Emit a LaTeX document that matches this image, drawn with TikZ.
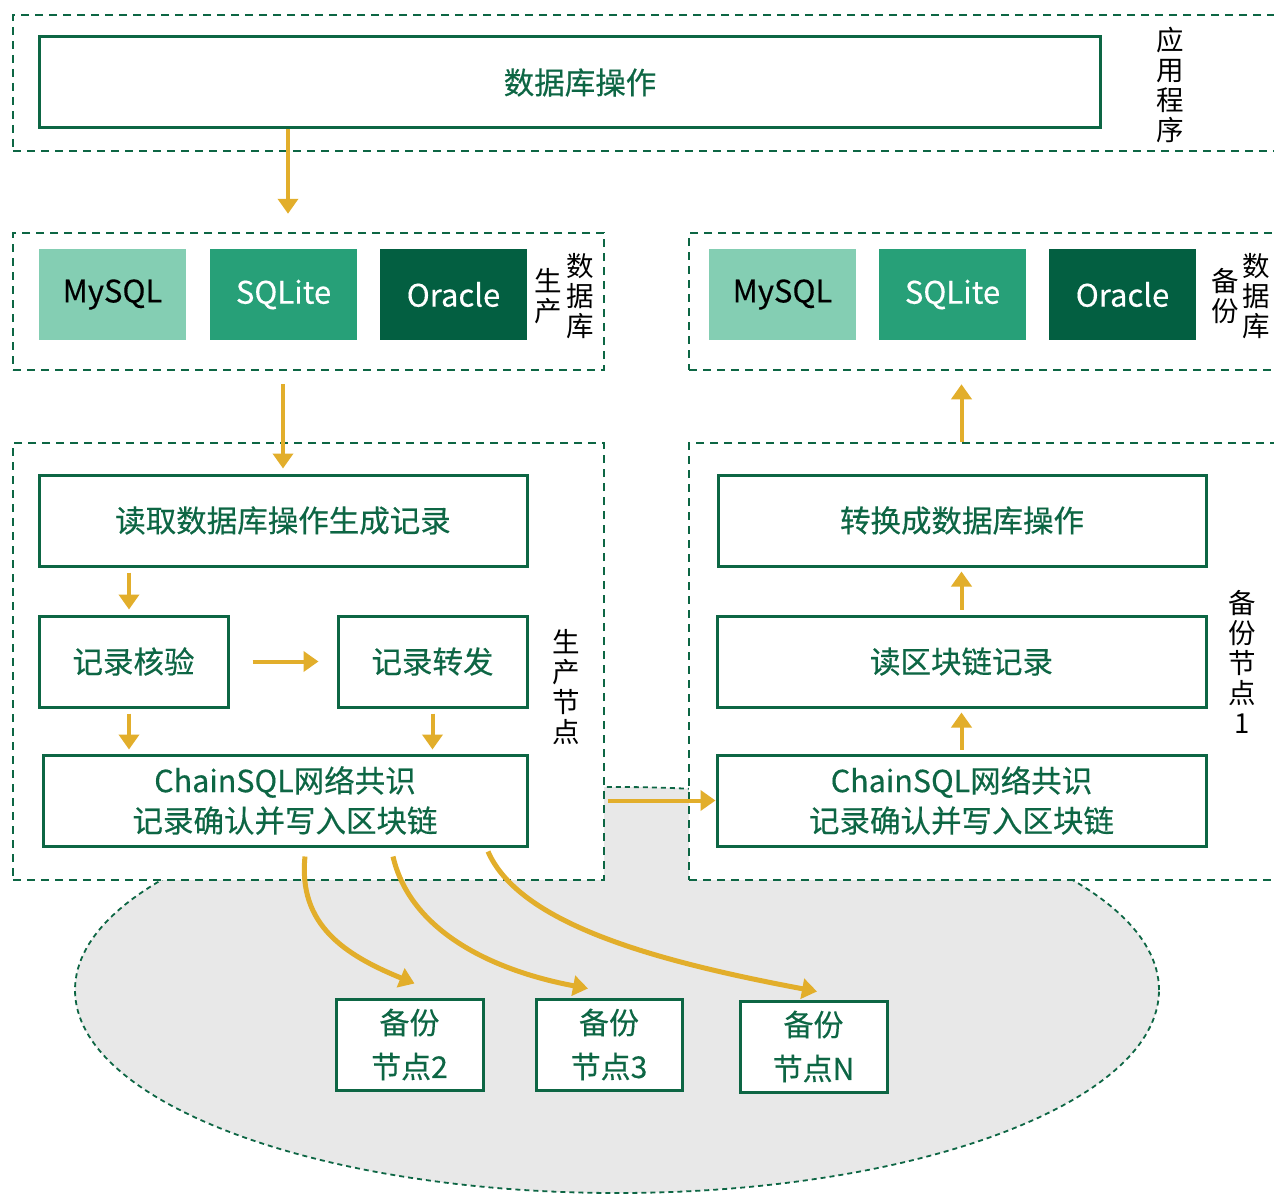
\documentclass[tikz,border=0pt]{standalone}
\usepackage{fontspec}
\setmainfont{Noto Sans CJK SC}
\newfontfamily\medfont{Noto Sans CJK SC}[FakeBold=0.35]
\usetikzlibrary{arrows.meta,calc}
\definecolor{dkg}{HTML}{0D6644}
\definecolor{ylw}{HTML}{E2AE2B}
\definecolor{dbA}{HTML}{84CEB3}
\definecolor{dbB}{HTML}{27A078}
\definecolor{dbC}{HTML}{035F41}
\definecolor{gry}{HTML}{E8E8E8}
\begin{document}
\begin{tikzpicture}[x=1pt,y=-1pt,
 grp/.style={draw=dkg, line width=2.5pt, dash pattern=on 8pt off 6pt, fill=white, inner sep=0pt},
 proc/.style={draw=dkg, line width=3pt, fill=white, text=dkg, font=\medfont\fontsize{30.5}{40}\selectfont, align=center, inner sep=0pt, minimum height=91pt},
 dbbox/.style={minimum width=147pt, minimum height=91pt, inner sep=0pt, font=\medfont\fontsize{31}{36}\selectfont},
 lbl/.style={align=center, font=\fontsize{27.5}{30}\selectfont, inner sep=0pt},
 small/.style={proc, minimum width=147pt, font=\medfont\fontsize{30}{44}\selectfont},
 flow/.style={draw=ylw, line width=4pt, -{Triangle[length=15pt,width=20pt]}},
 curv/.style={flow, line width=5pt}]
\useasboundingbox (0,0) rectangle (1274,1196);
\clip (0,0) rectangle (1274,1196);

% grey cloud
\path[fill=gry, draw=dkg, line width=1.8pt, dash pattern=on 5pt off 4pt] (617,990) ellipse [x radius=542pt, y radius=203pt];

% groups
\node[grp, minimum width=1277pt, minimum height=136pt] (gApp) at (651.5,83) {};
\node[grp, minimum width=591pt, minimum height=137pt] (gPdb) at (308.5,301.5) {};
\node[grp, minimum width=601pt, minimum height=137pt] (gBdb) at (989.5,301.5) {};
\node[grp, minimum width=591pt, minimum height=437pt] (gPn) at (308.5,661.5) {};
\node[grp, minimum width=601pt, minimum height=437pt] (gBn) at (989.5,661.5) {};

% application
\node[proc, minimum width=1061pt] (appop) at (569.5,82.5) {\hspace*{21pt}数据库操作};
\node[lbl] (lApp) at (1170,85) {应\\用\\程\\序};

% production DB
\node[dbbox, fill=dbA, text=black] (m1) at (112.5,294.5) {MySQL};
\node[dbbox, fill=dbB, text=white] (s1) at (283.5,294.5) {SQLite};
\node[dbbox, fill=dbC, text=white] (o1) at (453.5,294.5) {Oracle};
\node[lbl] (lP1) at (548,296) {生\\产};
\node[lbl] (lP2) at (580,296) {数\\据\\库};

% backup DB
\node[dbbox, fill=dbA, text=black] (m2) at (782.5,294.5) {MySQL};
\node[dbbox, fill=dbB, text=white] (s2) at (952.5,294.5) {SQLite};
\node[dbbox, fill=dbC, text=white] (o2) at (1122.5,294.5) {Oracle};
\node[lbl] (lB1) at (1225,296) {备\\份};
\node[lbl] (lB2) at (1256,296) {数\\据\\库};

% production node
\node[proc, minimum width=488pt] (r1) at (283,520.5) {读取数据库操作生成记录};
\node[proc, minimum width=189pt] (v1) at (133.5,661.5) {记录核验};
\node[proc, minimum width=189pt] (f1) at (432.5,661.5) {记录转发};
\node[proc, minimum width=484pt] (c1) at (285,800.5) {ChainSQL网络共识\\记录确认并写入区块链};
\node[lbl] (lPn) at (566,687) {生\\产\\节\\点};

% backup node 1
\node[proc, minimum width=488pt] (t2) at (962,520.5) {转换成数据库操作};
\node[proc, minimum width=489pt] (rb) at (961.5,661.5) {读区块链记录};
\node[proc, minimum width=489pt] (c2) at (961.5,800.5) {ChainSQL网络共识\\记录确认并写入区块链};
\node[lbl] (lBn) at (1242,662) {备\\份\\节\\点\\1};

% other backup nodes
\node[small] (b2) at (409.5,1044.5) {备份\\节点2};
\node[small, minimum width=146pt] (b3) at (609,1044.5) {备份\\节点3};
\node[small] (bN) at (813.5,1046.5) {备份\\节点N};

% arrows
\draw[flow] ([xshift=-281.5pt]appop.south) -- ($(gPdb.north)+(-20.5,-18)$);
\draw[flow] ($(gPdb.south -| r1.north)+(0,13)$) -- ($(r1.north)+(0,-5)$);
\draw[flow] ($(v1.north |- r1.south)+(-4.5,5)$) -- ($(v1.north)+(-4.5,-5)$);
\draw[flow] ($(v1.east)+(23,0)$) -- ($(f1.west)+(-18,0)$);
\draw[flow] ($(v1.south)+(-4.5,5)$) -- ($(c1.north -| v1.south)+(-4.5,-4)$);
\draw[flow] ($(f1.south)+(0,5)$) -- ($(c1.north -| f1.south)+(0,-4)$);

\draw[flow] ($(c2.north)+(0,-4)$) -- ($(rb.south)+(0,4)$);
\draw[flow] ($(rb.north)+(0,-5)$) -- ($(t2.south)+(-0.5,4)$);
\draw[flow] ($(gBn.north -| rb.north)$) -- ($(gBdb.south -| rb.north)+(0,13)$);
\draw[flow] ($(c1.east)+(79,0)$) -- (c2.west);

\draw[curv] ($(c1.south)+(20,9)$) .. controls (298,925) and (345,955) .. ($(b2.north)+(5,-14)$);
\draw[curv] ($(c1.south)+(108,9)$) .. controls (410,930) and (490,970) .. ($(b3.north)+(-21,-9)$);
\draw[curv] ($(c1.south)+(203,4)$) .. controls (520,925) and (660,962) .. ($(bN.north)+(3.5,-8)$);
\end{tikzpicture}
\end{document}
